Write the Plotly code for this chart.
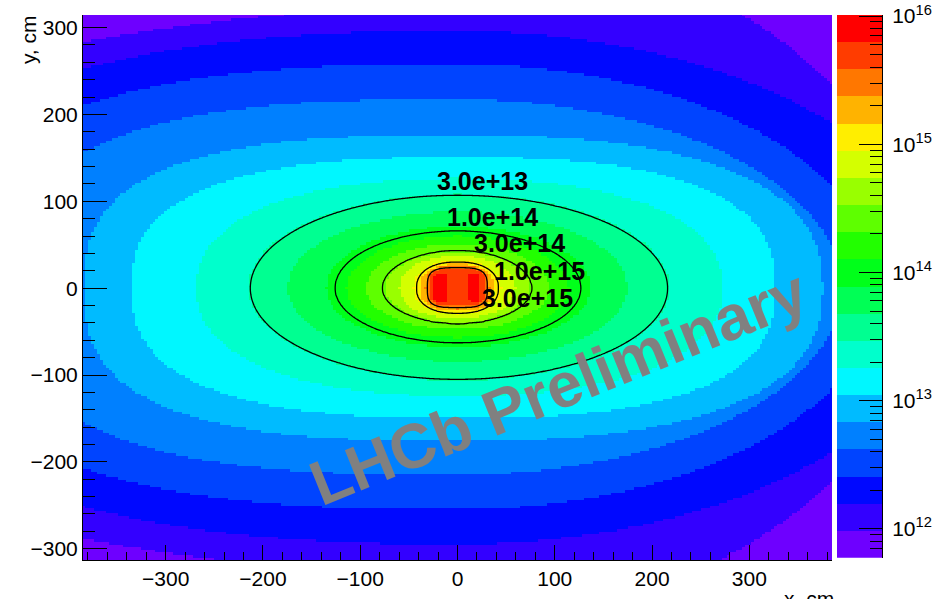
import numpy as np
import plotly.graph_objects as go

# ------------------------------------------------------------------
# Data
# ------------------------------------------------------------------
PALETTE_LOG_MIN = 11.774      # log10 of the lowest palette edge
PALETTE_LOG_MAX = 16.008      # log10 of the highest palette edge
N_BANDS = 20

# Iso-fluence table: log10(fluence) and the distance (cm) at which each level
# crosses the +x / -x axes and the top / bottom (left half and right half);
# SHAPE_* = squareness exponent of the level on the left / right half
LEVEL_LOG = [15.70, 15.585, 15.477, 15.373, 15.161, 15.000, 14.950, 14.738,
             14.526, 14.477, 14.314, 14.103, 14.000, 13.891, 13.679, 13.477,
             13.468, 13.256, 13.044, 12.833, 12.621, 12.409, 12.197, 11.986, 11.500]
CROSS_XPOS = [0.5, 29, 30.5, 33, 37.5, 42, 45, 60, 74, 76, 94, 114, 127, 137, 175, 216,
              218, 272, 327, 375, 394, 432, 501, 474, 700]
CROSS_XNEG = [0.5, 29, 31, 33, 38, 42, 45, 60, 74, 77, 94, 114, 126, 135, 175, 213,
              215, 268, 335, 383, 460, 540, 620, 895, 1100]
CROSS_YPOS_L = [0.5, 22, 23.5, 25.5, 27.5, 30, 31.5, 37, 42, 43, 51, 60, 66, 71, 88, 107,
                108, 126, 151, 176, 217, 258, 296, 325, 450]
CROSS_YPOS_R = [0.5, 22, 23.5, 25.5, 27.5, 30, 31.5, 37, 42, 43, 51, 60, 66, 71, 88, 107,
                108, 126, 151, 176, 217, 258, 296, 400, 520]
CROSS_YNEG_L = [0.5, 20, 22.5, 24, 26.5, 29, 30, 35, 40, 40.5, 48, 57, 63, 68, 85, 105,
                106, 124, 150, 176, 215, 255, 295, 331, 450]
CROSS_YNEG_R = [0.5, 20, 22.5, 24, 26.5, 29, 30, 35, 40, 40.5, 48, 57, 63, 68, 85, 105,
                106, 124, 150, 176, 215, 255, 295, 380, 500]
SHAPE_L = [2, 4, 3.5, 3, 2.6, 2.3, 2.2, 2.1, 2, 2, 2, 2, 2, 2, 2, 2,
           2, 2.3, 2.6, 2.8, 2.8, 2.6, 2.4, 1.8, 1.8]
SHAPE_R = [2, 4, 3.5, 3, 2.6, 2.3, 2.2, 2.1, 2, 2, 2, 2, 2, 2, 2, 2,
           2, 2.3, 2.6, 2.5, 2.0, 2.0, 2.0, 2.0, 2.0]

# two hottest spots inside the central red region (cm)
HOT_X = [-17, 17]
HOT_Y = [1, 1]
HOT_HALF_W = [8, 7]
HOT_HALF_H = [17, 17]
HOT_LOG = 15.90

# drawn iso-lines and their labels
LINE_VALUES = [3e13, 1e14, 3e14, 1e15, 3e15]
LINE_LABELS = ["3.0e+13", "1.0e+14", "3.0e+14", "1.0e+15", "3.0e+15"]
LABEL_X = [25.3, 36.1, 63.4, 84.5, 72.2]
LABEL_Y = [123.8, 82.3, 51.8, 20.2, -10.9]

X_TICKS = [-300, -200, -100, 0, 100, 200, 300]
Y_TICKS = [-300, -200, -100, 0, 100, 200, 300]
CBAR_EXPONENTS = [12, 13, 14, 15, 16]

# palette (bottom band first)
BAND_COLORS = ["#6e00ff", "#3300ff", "#0008ff", "#0044ff", "#0080ff", "#00bbff",
               "#00f7ff", "#00ffcc", "#00ff91", "#00ff55", "#00ff1a", "#22ff00",
               "#5eff00", "#99ff00", "#d4ff00", "#ffee00", "#ffb300", "#ff7700",
               "#ff3c00", "#ff0000"]


# ------------------------------------------------------------------
# Rebuild the map from the iso-level table
# ------------------------------------------------------------------
def log_field(xv, yv):
    X, Y = np.meshgrid(xv, yv)
    L = np.array(LEVEL_LOG)
    right = X >= 0
    top = Y >= 0
    logs = []
    for k in range(len(L)):
        ax = np.where(right, CROSS_XPOS[k], CROSS_XNEG[k])
        ay = np.where(top, np.where(right, CROSS_YPOS_R[k], CROSS_YPOS_L[k]),
                      np.where(right, CROSS_YNEG_R[k], CROSS_YNEG_L[k]))
        p = np.where(right, SHAPE_R[k], SHAPE_L[k])
        s = ((np.abs(X) / ax) ** p + (np.abs(Y) / ay) ** p) ** (1.0 / p)
        logs.append(np.log(np.maximum(s, 1e-9)))
    out = np.full(X.shape, L[-1])
    out = np.where(logs[0] < 0, L[0], out)
    for k in range(len(L) - 1):
        a, b = logs[k], logs[k + 1]
        m = (a >= 0) & (b < 0)
        t = a / np.where(m, a - b, 1.0)
        out = np.where(m, L[k] + t * (L[k + 1] - L[k]), out)
    for cx, cy, hw, hh in zip(HOT_X, HOT_Y, HOT_HALF_W, HOT_HALF_H):
        inside = ((np.abs(X - cx) / hw) ** 4 + (np.abs(Y - cy) / hh) ** 4) < 1
        out = np.where(inside, np.maximum(out, HOT_LOG), out)
    return out


xc = np.arange(-384, 385, 3.0)
yc = np.arange(-312, 316, 3.0)
Z = np.round(log_field(xc, yc), 3)

xl = np.concatenate([np.arange(-240, -50, 2.5), np.arange(-50, 50, 1.0), np.arange(50, 241, 2.5)])
yl = np.concatenate([np.arange(-130, -36, 2.5), np.arange(-36, 36, 1.0), np.arange(36, 131, 2.5)])
ZL = np.round(log_field(xl, yl), 4)

colorscale = []
for i, c in enumerate(BAND_COLORS):
    colorscale.append([i / N_BANDS, c])
    colorscale.append([(i + 1) / N_BANDS, c])

FONT = "Liberation Sans, Arial, Helvetica, sans-serif"

fig = go.Figure()
fig.add_trace(go.Heatmap(x=xc, y=yc, z=Z, zmin=PALETTE_LOG_MIN, zmax=PALETTE_LOG_MAX,
                         colorscale=colorscale, showscale=False, hoverinfo="skip",
                         zsmooth=False))
for v in LINE_VALUES:
    lv = float(np.log10(v))
    fig.add_trace(go.Contour(x=xl, y=yl, z=ZL, autocontour=False,
                             contours=dict(start=lv, end=lv, size=1, coloring="none"),
                             line=dict(color="black", width=1.3, smoothing=0.6),
                             showscale=False, hoverinfo="skip"))

# palette drawn as its own small panel
edges = np.linspace(PALETTE_LOG_MIN, PALETTE_LOG_MAX, N_BANDS + 1)
mids = (edges[:-1] + edges[1:]) / 2
fig.add_trace(go.Heatmap(x=[0, 1], y=edges, z=[[m] for m in mids],
                         zmin=PALETTE_LOG_MIN, zmax=PALETTE_LOG_MAX,
                         colorscale=colorscale, showscale=False, hoverinfo="skip",
                         xaxis="x2", yaxis="y2"))

minor_cb = []
for e in range(11, 16):
    for k in range(2, 10):
        v = np.log10(k) + e
        if PALETTE_LOG_MIN <= v <= PALETTE_LOG_MAX:
            minor_cb.append(float(v))

for txt, lx, ly in zip(LINE_LABELS, LABEL_X, LABEL_Y):
    fig.add_annotation(x=lx, y=ly, xref="x", yref="y", text="<b>" + txt + "</b>",
                       xanchor="center", yanchor="middle",
                       showarrow=False, font=dict(family=FONT, size=25, color="black"))

fig.add_annotation(x=0.595, y=0.318, xref="paper", yref="paper",
                   xanchor="center", yanchor="middle",
                   text="<b>LHCb Preliminary</b>", textangle=-22, showarrow=False,
                   font=dict(family=FONT, size=63, color="#808080"))
fig.add_annotation(x=-0.0688, y=0.954, xref="paper", yref="paper", text="y, cm",
                   xanchor="center", yanchor="middle",
                   textangle=-90, showarrow=False,
                   font=dict(family=FONT, size=21, color="black"))
fig.add_annotation(x=1.0 - (882 - 836) / 799.0, y=-0.045, xref="paper", yref="paper",
                   text="x, cm", xanchor="right", yanchor="top",
                   showarrow=False, font=dict(family=FONT, size=21, color="black"))

fig.update_layout(
    template="none",
    width=935, height=599,
    margin=dict(l=83, r=53, t=15, b=39, autoexpand=False),
    paper_bgcolor="white", plot_bgcolor="white",
    showlegend=False,
    font=dict(family=FONT, size=21, color="black"),
    xaxis=dict(domain=[0, 0.93742], range=[-385, 385], tickmode="array", tickvals=X_TICKS,
               ticks="inside", ticklen=15, tickcolor="black", showline=True,
               linecolor="black", linewidth=1, mirror=False, showgrid=False, zeroline=False,
               automargin=False,
               tickfont=dict(family=FONT, size=21, color="black"),
               minor=dict(tickmode="linear", tick0=0, dtick=20, ticks="inside",
                          ticklen=8, tickcolor="black", showgrid=False)),
    yaxis=dict(range=[-313, 314.5], tickmode="array", tickvals=Y_TICKS,
               ticks="inside", ticklen=24, tickcolor="black", showline=True,
               linecolor="black", linewidth=1, mirror=False, showgrid=False, zeroline=False,
               automargin=False,
               tickfont=dict(family=FONT, size=21, color="black"),
               minor=dict(tickmode="linear", tick0=0, dtick=20, ticks="inside",
                          ticklen=12, tickcolor="black", showgrid=False)),
    xaxis2=dict(domain=[0.94368, 1.0], range=[0, 1], visible=False, anchor="y2",
                automargin=False),
    yaxis2=dict(domain=[0.004, 1.0], range=[PALETTE_LOG_MIN, PALETTE_LOG_MAX], anchor="x2",
                side="right", tickmode="array", tickvals=CBAR_EXPONENTS,
                ticktext=["10<sup>%d</sup>" % e for e in CBAR_EXPONENTS],
                ticks="inside", ticklen=23, tickcolor="black", showline=True,
                linecolor="black", linewidth=1, showgrid=False, zeroline=False,
                automargin=False, ticklabelstandoff=5,
                tickfont=dict(family=FONT, size=21, color="black"),
                minor=dict(tickmode="array", tickvals=minor_cb, ticks="inside",
                           ticklen=12, tickcolor="black", showgrid=False)),
)

fig.write_html("out.html")
